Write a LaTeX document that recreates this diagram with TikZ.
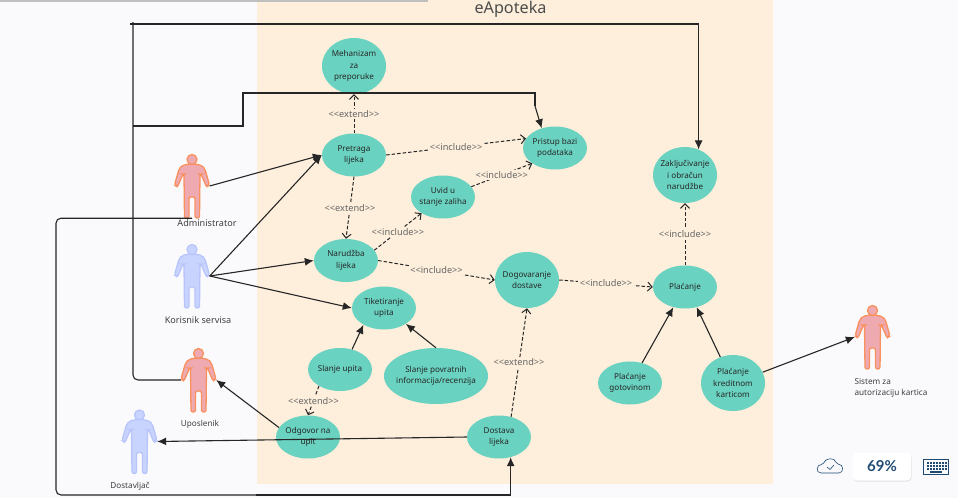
\documentclass[tikz,border=0pt]{standalone}
\usepackage{fontspec}
\setmainfont{Noto Sans}
\newfontfamily\uifont{Lato}
\usetikzlibrary{arrows.meta,shapes.geometric}
\definecolor{pagebg}{HTML}{FAFAFD}
\definecolor{systembg}{HTML}{FDEFDB}
\definecolor{usecasefill}{HTML}{69D2C0}
\definecolor{uitext}{HTML}{1F4A72}
\definecolor{redfill}{HTML}{EFA9B0}
\definecolor{redline}{HTML}{F9915F}
\definecolor{bluefill}{HTML}{C9D4FE}
\definecolor{blueline}{HTML}{B7C5FA}
\newcommand{\inclabel}{{<}{<}include{>}{>}}
\newcommand{\extlabel}{{<}{<}extend{>}{>}}
\tikzset{
	usecase/.style={ellipse,fill=usecasefill,inner xsep=-4pt,inner ysep=0pt,minimum width=64pt,minimum height=43pt,align=center,font=\fontsize{8.1}{11.6}\selectfont,text=black!85},
	tallcase/.style={usecase,minimum height=56pt},
	actorbox/.style={rectangle,inner sep=0pt,minimum width=35pt,minimum height=64pt},
	actorname/.style={font=\fontsize{8.2}{11.6}\selectfont,text=black!75,align=left},
	actorred/.style={fill=redfill,draw=redline},
	actorblue/.style={fill=bluefill,draw=blueline},
	conn/.style={draw=black!85,line width=1.1pt},
	assoc/.style={conn,-{Latex[length=9pt,width=8pt]}},
	dep/.style={draw=black!85,line width=1pt,dash pattern=on 3.5pt off 2pt,-{Straight Barb[length=4.5pt,width=9pt]}},
	deplabel/.style={fill=systembg,inner sep=1.5pt,font=\fontsize{9.2}{10}\selectfont,text=black!60},
	actorpic/.pic={
			\path[pic actions,line width=1.3pt,rounded corners=2pt]
			(0,-22.5) -- (10,-20.5) -- (13,-17) -- (17.5,-1) -- (14.5,1) -- (9,-12) -- (8,-12) -- (7.5,32) -- (3,32) -- (3,11)
			-- (-3,11) -- (-3,32) -- (-7.5,32) -- (-8,-12) -- (-9,-12) -- (-14.5,1) -- (-17.5,-1) -- (-13,-17) -- (-10,-20.5) -- cycle;
			\path[pic actions,line width=1.3pt] (0,-26.5) circle (5pt);
		}
}
\begin{document}
\begin{tikzpicture}[x=1pt,y=-1pt]
	\useasboundingbox (0,0) rectangle (958,498);
	\fill[pagebg] (0,0) rectangle (958,498);
	\fill[systembg] (257,0) rectangle (773,484);
	\fill[black!25] (0,0) rectangle (428,1.5);
	\node[font=\fontsize{16.2}{18}\selectfont,text=black!70] (title) at (510.5,9) {eApoteka};

	\node[tallcase] (mehanizam) at (354,66) {Mehanizam\\za\\preporuke};
	\node[usecase] (pretraga) at (354,155) {Pretraga\\lijeka};
	\node[usecase] (uvid) at (443,197) {Uvid u\\stanje zaliha};
	\node[usecase] (pristup) at (555,148) {Pristup bazi\\podataka};
	\node[tallcase] (zakljucivanje) at (685,175) {Zaključivanje\\i obračun\\narudžbe};
	\node[usecase] (narudzba) at (346,260.5) {Narudžba\\lijeka};
	\node[usecase] (tiketiranje) at (384,308) {Tiketiranje\\upita};
	\node[usecase] (slanjeupita) at (340,369.5) {Slanje upita};
	\node[usecase,minimum width=104pt,minimum height=56pt,inner xsep=-5pt] (povratne) at (436,376) {Slanje povratnih\\informacija/recenzija};
	\node[usecase] (odgovor) at (308,437) {Odgovor na\\upit};
	\node[usecase] (dostava) at (499,437) {Dostava\\lijeka};
	\node[tallcase] (dogovaranje) at (527,280) {Dogovaranje\\dostave};
	\node[usecase] (placanje) at (685,287) {Plaćanje};
	\node[usecase] (gotovina) at (630,383) {Plaćanje\\gotovinom};
	\node[tallcase] (kartica) at (733,383) {Plaćanje\\kreditnom\\karticom};

	\node[actorbox] (admin) at (192,186) {};
	\node[actorbox] (korisnik) at (192,276) {};
	\node[actorbox] (uposlenik) at (198.5,380) {};
	\node[actorbox] (dostavljac) at (139.5,441.5) {};
	\node[actorbox] (sistem) at (872.5,337) {};
	\pic[actorred] at (admin) {actorpic};
	\pic[actorblue] at (korisnik) {actorpic};
	\pic[actorred] at (uposlenik) {actorpic};
	\pic[actorblue] at (dostavljac) {actorpic};
	\pic[actorred] at (sistem) {actorpic};
	\node[actorname,font=\fontsize{9.1}{11.6}\selectfont] (adminname) at (207,223) {Administrator};
	\node[actorname,font=\fontsize{9.1}{11.6}\selectfont] (korisnikname) at (198,320) {Korisnik servisa};
	\node[actorname] (uposleniknaziv) at (200,424) {Uposlenik};
	\node[actorname] (dostavljacname) at (130,486) {Dostavljač};
	\node[actorname] (sistemname) at (891,388) {Sistem za\\autorizaciju kartica};

	\coordinate (trunktop) at (130,24);
	\coordinate (trunkstart) at (133,22);
	\coordinate (trunkmid) at (133,126);
	\coordinate (stepup) at (243,93);
	\coordinate (bendpt) at (535,106);
	\coordinate (lowleft) at (56,495);

	\draw[assoc] (trunktop) -| (zakljucivanje.62);
	\draw[conn,rounded corners=5pt] (trunkstart) |- (uposlenik.west);
	\draw[conn] (trunkmid) -| (stepup) -| (bendpt);
	\draw[assoc] (bendpt) -- (pristup.124);
	\draw[conn,rounded corners=5pt] (admin.south) -| (lowleft) -- ++(200,0);
	\draw[assoc] (lowleft) ++(200,0) -| (dostava.300);

	\draw[assoc] (admin.east) -- (pretraga.west);
	\draw[assoc] (korisnik.east) -- (pretraga.west);
	\draw[assoc] (korisnik.east) -- (narudzba.west);
	\draw[assoc] (korisnik.east) -- (tiketiranje.west);
	\draw[assoc] (slanjeupita.59) -- (tiketiranje.219);
	\draw[assoc] (povratne.north) -- (tiketiranje.324);
	\draw[assoc] (odgovor.162) -- (uposlenik.east);
	\draw[assoc] (dostava.west) -- (dostavljac.east);
	\draw[assoc] (gotovina.59) -- (placanje.240);
	\draw[assoc] (kartica.116) -- (placanje.300);
	\draw[assoc] (kartica.20) -- (sistem.west);

	\draw[dep] (pretraga.north) -- node[deplabel] {\extlabel} (mehanizam.south);
	\draw[dep] (pretraga.east) -- node[deplabel] {\inclabel} (pristup.162);
	\draw[dep] (pretraga.south) -- node[deplabel] {\extlabel} (narudzba.north);
	\draw[dep] (narudzba.20) -- node[deplabel] {\inclabel} (uvid.217);
	\draw[dep] (uvid.20) -- node[deplabel] {\inclabel} (pristup.214);
	\draw[dep] (narudzba.east) -- node[deplabel] {\inclabel} (dogovaranje.west);
	\draw[dep] (dogovaranje.east) -- node[deplabel] {\inclabel} (placanje.west);
	\draw[dep] (placanje.north) -- node[deplabel] {\inclabel} (zakljucivanje.south);
	\draw[dep] (slanjeupita.218) -- node[deplabel] {\extlabel} (odgovor.north);
	\draw[dep] (dostava.59) -- node[deplabel] {\extlabel} (dogovaranje.south);

	\draw[uitext,line width=.6pt,rounded corners=2pt] (823,473) .. controls (815,473) and (817,464) .. (823,465) .. controls (825,458) and (835,457) .. (836,464) .. controls (844,464) and (844,473) .. (837,473) -- cycle;
	\draw[uitext,line width=.6pt] (827,467) -- (830,469.5) -- (834,465);
	\fill[black!12,rounded corners=4pt] (853.5,453.5) rectangle (911.5,481.5);
	\node[rectangle,rounded corners=4pt,fill=white,minimum width=58pt,minimum height=28pt,inner sep=0pt,text=uitext,font=\uifont\bfseries\fontsize{15}{16}\selectfont] (zoomlevel) at (882,466.5) {69\%};
	\node[rectangle,draw=uitext,line width=.8pt,minimum width=25pt,minimum height=15pt,inner sep=0pt] (keyboard) at (936,467) {};
	\foreach \x in {927,930,...,945}{
			\foreach \y in {462,465,468}{
					\fill[uitext] (\x,\y) rectangle ++(2,2);
				}
		}
	\fill[uitext] (930,471) rectangle (942,472.5);
\end{tikzpicture}
\end{document}
